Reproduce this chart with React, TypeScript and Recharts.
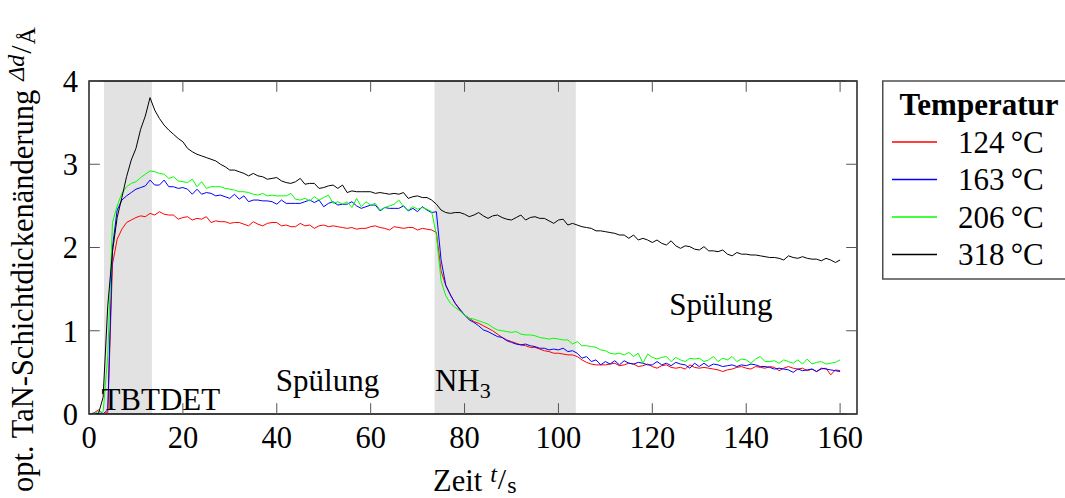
import React from 'react';
import { LineChart, Line, XAxis, YAxis, ReferenceArea, ReferenceLine, ReferenceDot, Legend, Label } from 'recharts';

const FONT = '"Liberation Serif", "Times New Roman", "DejaVu Serif", serif';

const time = [
  0, 1, 2, 3, 4, 5, 6, 7, 8, 9, 10, 11, 12, 13, 14, 15, 16, 17, 18, 19,
  20, 21, 22, 23, 24, 25, 26, 27, 28, 29, 30, 31, 32, 33, 34, 35, 36, 37, 38, 39,
  40, 41, 42, 43, 44, 45, 46, 47, 48, 49, 50, 51, 52, 53, 54, 55, 56, 57, 58, 59,
  60, 61, 62, 63, 64, 65, 66, 67, 68, 69, 70, 71, 72, 73, 74, 75, 76, 77, 78, 79,
  80, 81, 82, 83, 84, 85, 86, 87, 88, 89, 90, 91, 92, 93, 94, 95, 96, 97, 98, 99,
  100, 101, 102, 103, 104, 105, 106, 107, 108, 109, 110, 111, 112, 113, 114, 115, 116, 117, 118, 119,
  120, 121, 122, 123, 124, 125, 126, 127, 128, 129, 130, 131, 132, 133, 134, 135, 136, 137, 138, 139,
  140, 141, 142, 143, 144, 145, 146, 147, 148, 149, 150, 151, 152, 153, 154, 155, 156, 157, 158, 159,
  160,
];

const t124 = [
  0.00, 0.01, 0.05, 0.00, 0.02, 1.80, 2.10, 2.22, 2.30, 2.33,
  2.36, 2.38, 2.37, 2.41, 2.39, 2.43, 2.40, 2.39, 2.39, 2.34,
  2.36, 2.37, 2.33, 2.35, 2.34, 2.37, 2.30, 2.32, 2.31, 2.31,
  2.29, 2.30, 2.30, 2.28, 2.26, 2.31, 2.28, 2.26, 2.29, 2.30,
  2.30, 2.26, 2.27, 2.25, 2.25, 2.29, 2.26, 2.27, 2.23, 2.26,
  2.27, 2.25, 2.26, 2.25, 2.24, 2.23, 2.24, 2.22, 2.23, 2.23,
  2.25, 2.26, 2.24, 2.23, 2.21, 2.25, 2.24, 2.23, 2.24, 2.24,
  2.21, 2.23, 2.22, 2.21, 2.18, 1.72, 1.54, 1.43, 1.33, 1.25,
  1.19, 1.15, 1.11, 1.09, 1.06, 1.03, 1.00, 0.96, 0.92, 0.89,
  0.87, 0.85, 0.83, 0.82, 0.80, 0.80, 0.78, 0.76, 0.75, 0.73,
  0.73, 0.72, 0.71, 0.71, 0.69, 0.65, 0.62, 0.60, 0.59, 0.59,
  0.59, 0.60, 0.61, 0.58, 0.59, 0.61, 0.60, 0.57, 0.58, 0.60,
  0.57, 0.55, 0.58, 0.59, 0.56, 0.55, 0.56, 0.54, 0.59, 0.56,
  0.55, 0.56, 0.55, 0.54, 0.53, 0.51, 0.53, 0.54, 0.56, 0.57,
  0.55, 0.54, 0.57, 0.56, 0.55, 0.57, 0.56, 0.52, 0.55, 0.57,
  0.55, 0.54, 0.55, 0.52, 0.54, 0.51, 0.54, 0.55, 0.47, 0.53,
  0.52,
];

const t163 = [
  0.00, 0.01, 0.00, 0.00, 0.05, 2.00, 2.45, 2.57, 2.62, 2.66,
  2.70, 2.72, 2.74, 2.81, 2.75, 2.75, 2.81, 2.73, 2.73, 2.71,
  2.72, 2.70, 2.64, 2.70, 2.64, 2.66, 2.65, 2.62, 2.63, 2.61,
  2.59, 2.64, 2.58, 2.62, 2.55, 2.57, 2.57, 2.56, 2.56, 2.55,
  2.52, 2.57, 2.53, 2.53, 2.53, 2.53, 2.55, 2.57, 2.54, 2.57,
  2.49, 2.53, 2.55, 2.51, 2.52, 2.52, 2.55, 2.50, 2.47, 2.49,
  2.51, 2.51, 2.44, 2.48, 2.47, 2.47, 2.47, 2.50, 2.44, 2.47,
  2.43, 2.49, 2.45, 2.42, 2.43, 1.85, 1.55, 1.43, 1.33, 1.26,
  1.19, 1.13, 1.10, 1.06, 1.01, 0.99, 0.96, 0.93, 0.92, 0.88,
  0.86, 0.84, 0.83, 0.84, 0.82, 0.81, 0.79, 0.79, 0.77, 0.78,
  0.77, 0.79, 0.75, 0.76, 0.73, 0.67, 0.69, 0.63, 0.65, 0.59,
  0.63, 0.60, 0.64, 0.59, 0.64, 0.61, 0.60, 0.62, 0.61, 0.59,
  0.59, 0.63, 0.59, 0.61, 0.58, 0.62, 0.60, 0.59, 0.55, 0.61,
  0.57, 0.61, 0.57, 0.60, 0.59, 0.57, 0.58, 0.59, 0.57, 0.59,
  0.58, 0.60, 0.59, 0.57, 0.57, 0.56, 0.54, 0.55, 0.54, 0.53,
  0.50, 0.54, 0.52, 0.53, 0.54, 0.51, 0.55, 0.54, 0.53, 0.52,
  0.51,
];

const t206 = [
  0.00, 0.00, 0.03, 0.02, 0.70, 2.30, 2.50, 2.65, 2.73, 2.77,
  2.79, 2.84, 2.88, 2.92, 2.91, 2.89, 2.88, 2.83, 2.85, 2.80,
  2.79, 2.78, 2.82, 2.73, 2.79, 2.71, 2.73, 2.73, 2.73, 2.71,
  2.70, 2.69, 2.67, 2.67, 2.66, 2.64, 2.63, 2.65, 2.62, 2.63,
  2.62, 2.62, 2.62, 2.65, 2.58, 2.57, 2.59, 2.56, 2.61, 2.57,
  2.60, 2.63, 2.53, 2.55, 2.52, 2.55, 2.48, 2.59, 2.49, 2.55,
  2.51, 2.53, 2.45, 2.48, 2.50, 2.52, 2.57, 2.49, 2.45, 2.49,
  2.46, 2.48, 2.46, 2.43, 2.15, 1.60, 1.42, 1.33, 1.28, 1.24,
  1.19, 1.15, 1.14, 1.12, 1.10, 1.08, 1.04, 1.01, 1.00, 0.99,
  0.98, 0.99, 0.96, 0.95, 0.95, 0.94, 0.92, 0.91, 0.90, 0.91,
  0.90, 0.89, 0.89, 0.84, 0.87, 0.82, 0.82, 0.81, 0.80, 0.77,
  0.76, 0.73, 0.72, 0.73, 0.71, 0.74, 0.69, 0.73, 0.61, 0.72,
  0.68, 0.66, 0.68, 0.69, 0.63, 0.68, 0.65, 0.63, 0.67, 0.66,
  0.67, 0.63, 0.65, 0.69, 0.63, 0.67, 0.65, 0.69, 0.63, 0.66,
  0.65, 0.61, 0.66, 0.69, 0.63, 0.63, 0.64, 0.61, 0.65, 0.63,
  0.61, 0.65, 0.60, 0.66, 0.60, 0.62, 0.63, 0.60, 0.61, 0.62,
  0.65,
];

const t318 = [
  0.00, 0.00, 0.00, 0.20, 1.30, 1.95, 2.36, 2.60, 2.85, 3.05,
  3.19, 3.42, 3.58, 3.80, 3.65, 3.55, 3.47, 3.41, 3.36, 3.31,
  3.27, 3.19, 3.15, 3.12, 3.10, 3.08, 3.06, 3.04, 3.00, 2.97,
  2.93, 2.93, 2.91, 2.89, 2.86, 2.89, 2.86, 2.85, 2.82, 2.83,
  2.84, 2.80, 2.78, 2.77, 2.79, 2.83, 2.76, 2.77, 2.77, 2.71,
  2.72, 2.74, 2.75, 2.71, 2.75, 2.66, 2.68, 2.67, 2.67, 2.67,
  2.67, 2.65, 2.66, 2.65, 2.64, 2.65, 2.64, 2.66, 2.59, 2.61,
  2.62, 2.60, 2.60, 2.57, 2.52, 2.45, 2.42, 2.41, 2.42, 2.42,
  2.40, 2.37, 2.39, 2.42, 2.38, 2.35, 2.38, 2.39, 2.36, 2.34,
  2.33, 2.36, 2.39, 2.33, 2.36, 2.37, 2.35, 2.35, 2.32, 2.29,
  2.33, 2.34, 2.27, 2.29, 2.27, 2.25, 2.24, 2.23, 2.20, 2.20,
  2.19, 2.18, 2.17, 2.15, 2.15, 2.11, 2.15, 2.09, 2.11, 2.09,
  2.06, 2.09, 2.05, 2.03, 2.08, 2.02, 1.99, 2.02, 2.01, 1.98,
  1.97, 2.01, 1.96, 1.96, 1.95, 1.97, 1.92, 1.90, 1.94, 1.92,
  1.92, 1.91, 1.91, 1.90, 1.89, 1.88, 1.88, 1.87, 1.85, 1.90,
  1.88, 1.87, 1.89, 1.87, 1.86, 1.86, 1.84, 1.87, 1.85, 1.82,
  1.85,
];

const seriesKeys = ['s124', 's163', 's206', 's318'];
const seriesNames = ['124\u2009°C', '163\u2009°C', '206\u2009°C', '318\u2009°C'];
const seriesColors = ['#ff0000', '#0000ff', '#00ff00', '#000000'];
const seriesValues = [t124, t163, t206, t318];

const xTicks = [0, 20, 40, 60, 80, 100, 120, 140, 160];
const yTicks = [0, 1, 2, 3, 4];
const xDomain = [0, 163.6];
const yDomain = [0, 4];

// phases (seconds)
const phaseTBTDET = [3.2, 13.4];
const phaseNH3 = [73.6, 103.7];

const data = time.map((t, i) => {
  const row: Record<string, number> = { t };
  seriesKeys.forEach((k, j) => {
    row[k] = seriesValues[j][i];
  });
  return row;
});

// tick mark lengths in data units (inward ticks, mirrored)
const xTickLen = 0.13;
const yTickLen = 2.3;

const renderLegend = () => (
  <svg width={183} height={202} style={{ display: 'block' }}>
    <rect x={0.75} y={1} width={210} height={198} fill="#fff" stroke="#4d4d4d" strokeWidth={1.5} />
    <text x={97} y={35} textAnchor="middle" fontFamily={FONT} fontSize={31} fontWeight="bold" fill="#000">
      Temperatur
    </text>
    {seriesNames.map((n, i) => (
      <g key={n}>
        <line x1={10} x2={55} y1={62 + 37.5 * i} y2={62 + 37.5 * i} stroke={seriesColors[i]} strokeWidth={1.5} />
        <text x={76} y={72.5 + 37.5 * i} fontFamily={FONT} fontSize={31} fill="#000">
          {n}
        </text>
      </g>
    ))}
  </svg>
);

const renderYLabel = () => (
  <text transform="rotate(-90 33 492)" x={33} y={492} fontFamily={FONT} fontSize={30.5} fill="#000">
    opt. TaN-Schichtdickenänderung
    <tspan dx={9} dy={-9} fontSize={24} fontStyle="italic">Δd</tspan>
    <tspan dx={1} dy={7} fontSize={30}>/</tspan>
    <tspan dx={1} dy={4} fontSize={24}>Å</tspan>
  </text>
);

const renderXLabel = () => (
  <text x={433} y={491} fontFamily={FONT} fontSize={30.5} fill="#000">
    Zeit
    <tspan dx={8} dy={-9} fontSize={24} fontStyle="italic">t</tspan>
    <tspan dx={1} dy={7} fontSize={30}>/</tspan>
    <tspan dx={1} dy={4} fontSize={24}>s</tspan>
  </text>
);

const textShape = (content: React.ReactNode, anchor: string) => (p: any) => (
  <text x={p.cx} y={p.cy} textAnchor={anchor} fontFamily={FONT} fontSize={31} fill="#000">
    {content}
  </text>
);

export default function App() {
  return (
    <div style={{ position: 'absolute', left: 0, top: 0, width: 1065, height: 498, background: '#fff' }}>
      <LineChart
        width={1065}
        height={498}
        data={data}
        margin={{ top: 81, right: 208, bottom: 44, left: 29 }}
      >
        <ReferenceArea x1={phaseTBTDET[0]} x2={phaseTBTDET[1]} y1={yDomain[0]} y2={yDomain[1]} fill="#e2e2e2" fillOpacity={1} stroke="none" />
        <ReferenceArea x1={phaseNH3[0]} x2={phaseNH3[1]} y1={yDomain[0]} y2={yDomain[1]} fill="#e2e2e2" fillOpacity={1} stroke="none" />
        <XAxis
          dataKey="t"
          type="number"
          domain={xDomain}
          ticks={xTicks}
          allowDataOverflow
          axisLine={false}
          tickLine={false}
          tickSize={0}
          tickMargin={12}
          height={40}
          tick={{ fontFamily: FONT, fontSize: 30.5, fill: '#000' }}
        >
          <Label content={renderXLabel} />
        </XAxis>
        <YAxis
          type="number"
          domain={yDomain}
          ticks={yTicks}
          allowDataOverflow
          axisLine={false}
          tickLine={false}
          tickSize={0}
          tickMargin={11}
          width={60}
          tick={{ fontFamily: FONT, fontSize: 30.5, fill: '#000' }}
        >
          <Label content={renderYLabel} />
        </YAxis>
        {xTicks.map((v) => (
          <ReferenceLine key={'xb' + v} segment={[{ x: v, y: yDomain[0] }, { x: v, y: yDomain[0] + xTickLen }]} stroke="#555" strokeWidth={1} />
        ))}
        {xTicks.map((v) => (
          <ReferenceLine key={'xt' + v} segment={[{ x: v, y: yDomain[1] }, { x: v, y: yDomain[1] - xTickLen }]} stroke="#555" strokeWidth={1} />
        ))}
        {yTicks.map((v) => (
          <ReferenceLine key={'yl' + v} segment={[{ x: xDomain[0], y: v }, { x: xDomain[0] + yTickLen, y: v }]} stroke="#555" strokeWidth={1} />
        ))}
        {yTicks.map((v) => (
          <ReferenceLine key={'yr' + v} segment={[{ x: xDomain[1], y: v }, { x: xDomain[1] - yTickLen, y: v }]} stroke="#555" strokeWidth={1} />
        ))}
        {seriesKeys.map((k, i) => (
          <Line
            key={k}
            dataKey={k}
            name={seriesNames[i]}
            stroke={seriesColors[i]}
            strokeWidth={1}
            dot={false}
            activeDot={false}
            isAnimationActive={false}
          />
        ))}
        <ReferenceArea x1={xDomain[0]} x2={xDomain[1]} y1={yDomain[0]} y2={yDomain[1]} fill="none" stroke="#000" strokeWidth={1.3} />
        <ReferenceDot x={15.3} y={0.05} r={1} shape={textShape('TBTDET', 'middle')} />
        <ReferenceDot x={50.8} y={0.28} r={1} shape={textShape('Spülung', 'middle')} />
        <ReferenceDot
          x={73.7}
          y={0.28}
          r={1}
          shape={textShape(
            <>
              NH<tspan dy={7} fontSize={22}>3</tspan>
            </>,
            'start'
          )}
        />
        <ReferenceDot x={134.6} y={1.19} r={1} shape={textShape('Spülung', 'middle')} />
        <Legend
          layout="vertical"
          align="center"
          verticalAlign="middle"
          wrapperStyle={{ left: 882, top: 80, width: 183, height: 202 }}
          content={renderLegend}
        />
      </LineChart>
    </div>
  );
}
